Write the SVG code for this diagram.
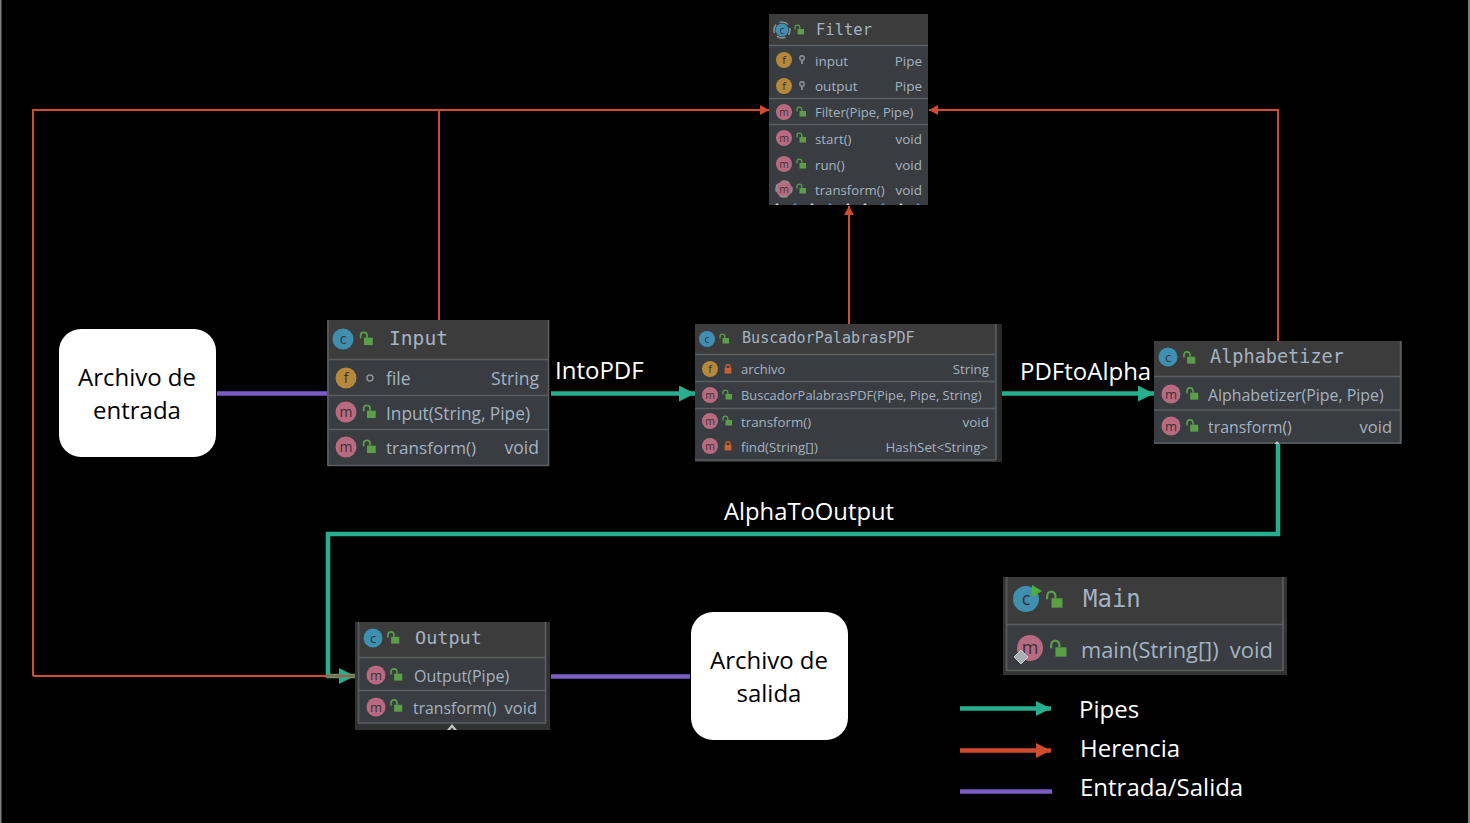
<svg xmlns="http://www.w3.org/2000/svg" width="1470" height="823" viewBox="0 0 1470 823">
<style>
.hd{fill:#3c3c3c}.bd{fill:#393c40}.sep{stroke:#5b5e60;stroke-width:1.6;fill:none}
.t{font-family:"Open Sans","Noto Sans",sans-serif;fill:#a4b3c2}
.h{font-family:"DejaVu Sans Mono","Liberation Mono",monospace;fill:#a4b3c2}
.ic{font-family:"Open Sans","Noto Sans",sans-serif;fill:#3a3033;text-anchor:middle}
.e{text-anchor:end}
.lb{font-family:"Open Sans","Noto Sans",sans-serif;font-size:23.800px;fill:#fff}
.lc{font-family:"Open Sans","Noto Sans",sans-serif;font-size:24px;fill:#fff}
.box{fill:#fff}
.bx{font-family:"Open Sans","Noto Sans",sans-serif;font-size:24px;fill:#000;text-anchor:middle}
.cl{fill:#3f8fb0}.fd{fill:#b5883c}.mt{fill:#b86b80}
.g{fill:none;stroke:#26ae8e;stroke-width:4.500}
.r{fill:none;stroke:#cf4d2d;stroke-width:2}
.p{fill:none;stroke:#7b5cc4;stroke-width:4.500}
.tw{fill:#c4c6c8}.tb{fill:#4a90d0}
</style>
<defs>
<marker id="ag" markerUnits="userSpaceOnUse" markerWidth="16" markerHeight="16" refX="16" refY="8" orient="auto"><path d="M0 0L16 8L0 16Z" fill="#26ae8e"/></marker>
<marker id="ar" markerUnits="userSpaceOnUse" markerWidth="10" markerHeight="10" refX="9" refY="5" orient="auto"><path d="M0 0L9 5L0 10Z" fill="#cf4d2d"/></marker>
<marker id="agl" markerUnits="userSpaceOnUse" markerWidth="15" markerHeight="15" refX="15" refY="7.500" orient="auto"><path d="M0 0L15 7.500L0 15Z" fill="#26ae8e"/></marker>
<marker id="arl" markerUnits="userSpaceOnUse" markerWidth="15" markerHeight="15" refX="15" refY="7.500" orient="auto"><path d="M0 0L15 7.500L0 15Z" fill="#cf4d2d"/></marker>
<g id="lock"><path d="M-4 -.5V-2.500A2.300 2.300 0 0 1 .8 -2.500V-1" fill="none" stroke="#5a9e48" stroke-width="1.300"/><rect x="-1.500" y="-1" width="6.500" height="5.500" fill="#5a9e48"/></g>
<g id="rlock"><path d="M-2.200 -1V-2.200A2.200 2.200 0 0 1 2.200 -2.200V-1" fill="none" stroke="#c9622e" stroke-width="1.300"/><rect x="-3.400" y="-1" width="6.800" height="5.500" fill="#c9622e"/></g>
<g id="key"><circle cx="0" cy="-2" r="2.200" fill="none" stroke="#8c9397" stroke-width="1.400"/><path d="M0 0V4" stroke="#8c9397" stroke-width="1.800"/></g>
</defs>
<rect width="1470" height="823" fill="#000"/>
<rect x="0" y="0" width="1.500" height="823" fill="#808080"/>
<rect x="1468" y="0" width="2" height="823" fill="#808080"/>

<g id="connectors">
<path class="r" d="M439 320V110H769" marker-end="url(#ar)"/>
<path class="r" d="M439 110H33V676"/>
<path class="r" d="M849 324V206" marker-end="url(#ar)"/>
<path class="r" d="M1278 341V110H929" marker-end="url(#ar)"/>
<path class="g" d="M551 393.500H695" marker-end="url(#ag)"/>
<path class="g" d="M1002 393.500H1154" marker-end="url(#ag)"/>
<path class="g" d="M1278 444V534H328V676H355" marker-end="url(#ag)"/>
<path class="r" d="M33 676H355"/>
<path class="p" d="M217 393.500H327"/>
<path class="p" d="M551 676.500H690"/>
</g>

<g id="archivo-entrada"><rect class="box" x="59" y="329" width="157" height="128" rx="22"/><text class="bx" x="137" y="386">Archivo de</text><text class="bx" x="137" y="419">entrada</text></g>
<g id="archivo-salida"><rect class="box" x="691" y="612" width="157" height="128" rx="22"/><text class="bx" x="769" y="669">Archivo de</text><text class="bx" x="769" y="702">salida</text></g>

<g id="label-intopdf"><text class="lc" x="555" y="379">IntoPDF</text></g>
<g id="label-pdftoalpha"><text class="lc" x="1020" y="380">PDFtoAlpha</text></g>
<g id="label-alphatooutput"><text class="lb" x="724" y="520">AlphaToOutput</text></g>

<g id="filter">
<rect class="bd" x="769" y="14" width="159" height="191"/><rect class="hd" x="769" y="14" width="159" height="31"/>
<path class="sep" d="M769 45.500H928M769 98.500H928M769 124.500H928"/>
<circle class="cl" cx="782" cy="30" r="6.500"/><circle cx="782" cy="30" r="8" fill="none" stroke="#8c9397" stroke-width="1.500" stroke-dasharray="9 4" stroke-dashoffset="4"/><text class="ic" x="782" y="33.500" font-size="10">c</text><use href="#lock" x="799" y="30"/>
<text class="h" x="816" y="35" font-size="15.500">Filter</text>
<circle class="fd" cx="784" cy="60" r="8"/><text class="ic" x="784" y="64" font-size="11">f</text><use href="#key" x="802" y="60"/><text class="t" x="815" y="65.500" font-size="13.500">input</text><text class="t e" x="922" y="65.500" font-size="13.500">Pipe</text>
<circle class="fd" cx="784" cy="86" r="8"/><text class="ic" x="784" y="90" font-size="11">f</text><use href="#key" x="802" y="86"/><text class="t" x="815" y="91" font-size="13.500">output</text><text class="t e" x="922" y="91" font-size="13.500">Pipe</text>
<circle class="mt" cx="784" cy="112" r="8"/><text class="ic" x="784" y="115.500" font-size="10.500">m</text><use href="#lock" x="801" y="112"/><text class="t" x="815" y="117" font-size="13.100">Filter(Pipe, Pipe)</text>
<circle class="mt" cx="784" cy="138" r="8"/><text class="ic" x="784" y="141.500" font-size="10.500">m</text><use href="#lock" x="801" y="138"/><text class="t" x="815" y="143.500" font-size="13.300">start()</text><text class="t e" x="922" y="143.500" font-size="13.500">void</text>
<circle class="mt" cx="784" cy="164" r="8"/><text class="ic" x="784" y="167.500" font-size="10.500">m</text><use href="#lock" x="801" y="164"/><text class="t" x="815" y="169.500" font-size="13.300">run()</text><text class="t e" x="922" y="169.500" font-size="13.500">void</text>
<circle class="mt" cx="784" cy="189" r="8"/><circle cx="784" cy="189" r="8" fill="none" stroke="#8c9397" stroke-width="1.500" stroke-dasharray="8 5" stroke-dashoffset="4"/><text class="ic" x="784" y="192.500" font-size="10.500">m</text><use href="#lock" x="801" y="189"/><text class="t" x="815" y="194.500" font-size="13.200">transform()</text><text class="t e" x="922" y="194.500" font-size="13.500">void</text>
<path class="tw" d="M777 203l2 2h-4zM812 203l2 2h-4zM848 203l2 2h-4zM865 203l2 2h-4zM901 203l2 2h-4z"/>
<path class="tb" d="M795 203l2 2h-4zM830 203l2 2h-4zM883 203l2 2h-4zM918 203l2 2h-4z"/>
</g>

<g id="input">
<rect class="bd" x="327" y="320" width="222" height="146"/><rect class="hd" x="327" y="320" width="222" height="39"/>
<path class="sep" d="M327 359.500H549M327 395.500H549M327 429.500H549M328 320V465.500H548.500V320"/>
<circle class="cl" cx="343" cy="339" r="10.500"/><text class="ic" x="343" y="344" font-size="14">c</text><use href="#lock" transform="translate(366 339) scale(1.350)"/>
<text class="h" x="389" y="345" font-size="19.600">Input</text>
<circle class="fd" cx="346" cy="378" r="10.500"/><text class="ic" x="346" y="383" font-size="14">f</text><circle cx="370" cy="378" r="3" fill="none" stroke="#8c9397" stroke-width="1.500"/><text class="t" x="386" y="385" font-size="17.500">file</text><text class="t e" x="539" y="385" font-size="17.600">String</text>
<circle class="mt" cx="346" cy="412" r="10.500"/><text class="ic" x="346" y="417" font-size="14">m</text><use href="#lock" transform="translate(369 412) scale(1.350)"/><text class="t" x="386" y="419.500" font-size="17.300">Input(String, Pipe)</text>
<circle class="mt" cx="346" cy="447" r="10.500"/><text class="ic" x="346" y="452" font-size="14">m</text><use href="#lock" transform="translate(369 447) scale(1.350)"/><text class="t" x="386" y="454" font-size="17.100">transform()</text><text class="t e" x="539" y="454" font-size="17.500">void</text>
</g>

<g id="buscador">
<rect fill="#2b2b2b" x="695" y="324" width="307" height="138"/>
<rect class="bd" x="695" y="324" width="301" height="136"/><rect class="hd" x="695" y="324" width="301" height="30"/>
<path class="sep" d="M695 354.500H996M695 381.500H996M695 408.500H996M695 460H996M996 324V460"/>
<circle class="cl" cx="707" cy="339" r="8"/><text class="ic" x="707" y="342.500" font-size="10.500">c</text><use href="#lock" x="724" y="339"/>
<text class="h" x="742" y="343" font-size="15.100">BuscadorPalabrasPDF</text>
<circle class="fd" cx="710" cy="369" r="8"/><text class="ic" x="710" y="373" font-size="11">f</text><use href="#rlock" x="728" y="369"/><text class="t" x="741" y="374" font-size="13">archivo</text><text class="t e" x="989" y="374" font-size="13.300">String</text>
<circle class="mt" cx="710" cy="395" r="8"/><text class="ic" x="710" y="398.500" font-size="10.500">m</text><use href="#lock" x="727" y="395"/><text class="t" x="741" y="400" font-size="12.900">BuscadorPalabrasPDF(Pipe, Pipe, String)</text>
<circle class="mt" cx="710" cy="421" r="8"/><text class="ic" x="710" y="424.500" font-size="10.500">m</text><use href="#lock" x="727" y="421"/><text class="t" x="741" y="426.500" font-size="13.300">transform()</text><text class="t e" x="989" y="426.500" font-size="13.500">void</text>
<circle class="mt" cx="710" cy="446" r="8"/><text class="ic" x="710" y="449.500" font-size="10.500">m</text><use href="#rlock" x="728" y="446"/><text class="t" x="741" y="451.500" font-size="13.300">find(String[])</text><text class="t e" x="988" y="451.500" font-size="13.300">HashSet&lt;String&gt;</text>
</g>

<g id="alphabetizer">
<rect class="bd" x="1154" y="341" width="248" height="103"/><rect class="hd" x="1154" y="341" width="248" height="35"/>
<path class="sep" d="M1154 376.500H1400M1154 410H1400M1154 443H1401M1400.500 341V443"/>
<circle class="cl" cx="1168" cy="357" r="9.500"/><text class="ic" x="1168" y="362" font-size="13">c</text><use href="#lock" transform="translate(1189 358) scale(1.250)"/>
<text class="h" x="1210" y="363" font-size="18.550">Alphabetizer</text>
<circle class="mt" cx="1171" cy="394" r="9.500"/><text class="ic" x="1171" y="398.500" font-size="13">m</text><use href="#lock" transform="translate(1192 394) scale(1.250)"/><text class="t" x="1208" y="401" font-size="15.900">Alphabetizer(Pipe, Pipe)</text>
<circle class="mt" cx="1171" cy="426" r="9.500"/><text class="ic" x="1171" y="430.500" font-size="13">m</text><use href="#lock" transform="translate(1192 426) scale(1.250)"/><text class="t" x="1208" y="433" font-size="15.900">transform()</text><text class="t e" x="1392" y="433" font-size="16.500">void</text>
<path class="tw" d="M1277 441l2.500 3h-5z"/>
</g>

<g id="output">
<rect fill="#2f3133" x="355" y="622" width="195" height="108"/>
<rect class="bd" x="358" y="622" width="188" height="101"/><rect class="hd" x="358" y="622" width="188" height="35"/>
<path class="sep" d="M358 657.500H546M358 690.500H546M358 723H546M358.500 622V723M545.500 622V723"/>
<circle class="cl" cx="373" cy="638" r="9.500"/><text class="ic" x="373" y="642.500" font-size="13">c</text><use href="#lock" transform="translate(393 638) scale(1.250)"/>
<text class="h" x="415" y="644" font-size="18.500">Output</text>
<circle class="mt" cx="376" cy="675" r="9.500"/><text class="ic" x="376" y="679.500" font-size="13">m</text><use href="#lock" transform="translate(396 675) scale(1.250)"/><text class="t" x="414" y="682" font-size="16">Output(Pipe)</text>
<circle class="mt" cx="376" cy="707" r="9.500"/><text class="ic" x="376" y="711.500" font-size="13">m</text><use href="#lock" transform="translate(396 706) scale(1.250)"/><text class="t" x="413" y="714" font-size="15.800">transform()</text><text class="t e" x="537" y="714" font-size="16.500">void</text>
<path class="tw" d="M452 724l5 6h-3l-2-2.500l-2 2.500h-3z"/>
</g>

<g id="main">
<rect fill="#333" x="1003" y="577" width="284" height="98"/>
<rect class="bd" x="1006" y="577" width="277" height="94"/><rect class="hd" x="1006" y="577" width="277" height="47"/>
<path class="sep" d="M1006 624.500H1283M1006 670.500H1283M1006.500 577V671M1283 577V671" stroke-width="2.500"/>
<circle class="cl" cx="1026" cy="599" r="13"/><text class="ic" x="1026" y="605" font-size="18">c</text><path d="M1032 585L1042 591L1032 597Z" fill="#4fae3e"/><use href="#lock" transform="translate(1054 600) scale(1.700)"/>
<text class="h" x="1083" y="607" font-size="24">Main</text>
<circle class="mt" cx="1030" cy="648" r="13"/><text class="ic" x="1030" y="654" font-size="18">m</text><path d="M1021 650L1028 657L1021 664L1014 657Z" fill="#a9b0b5" stroke="#c8ccce"/><use href="#lock" transform="translate(1058 649) scale(1.700)"/>
<text class="t" x="1081" y="658" font-size="21.800">main(String[])</text><text class="t e" x="1273" y="658" font-size="22">void</text>
</g>

<g id="legend">
<path class="g" d="M960 708.500H1051" marker-end="url(#agl)"/>
<path fill="none" stroke="#cf4d2d" stroke-width="4.500" d="M960 750.500H1051" marker-end="url(#arl)"/>
<path fill="none" stroke="#7b5cc4" stroke-width="4.500" d="M960 791.500H1052"/>
<text class="lc" x="1079" y="718">Pipes</text>
<text class="lc" x="1080" y="757">Herencia</text>
<text class="lc" x="1080" y="796">Entrada/Salida</text>
</g>
</svg>
